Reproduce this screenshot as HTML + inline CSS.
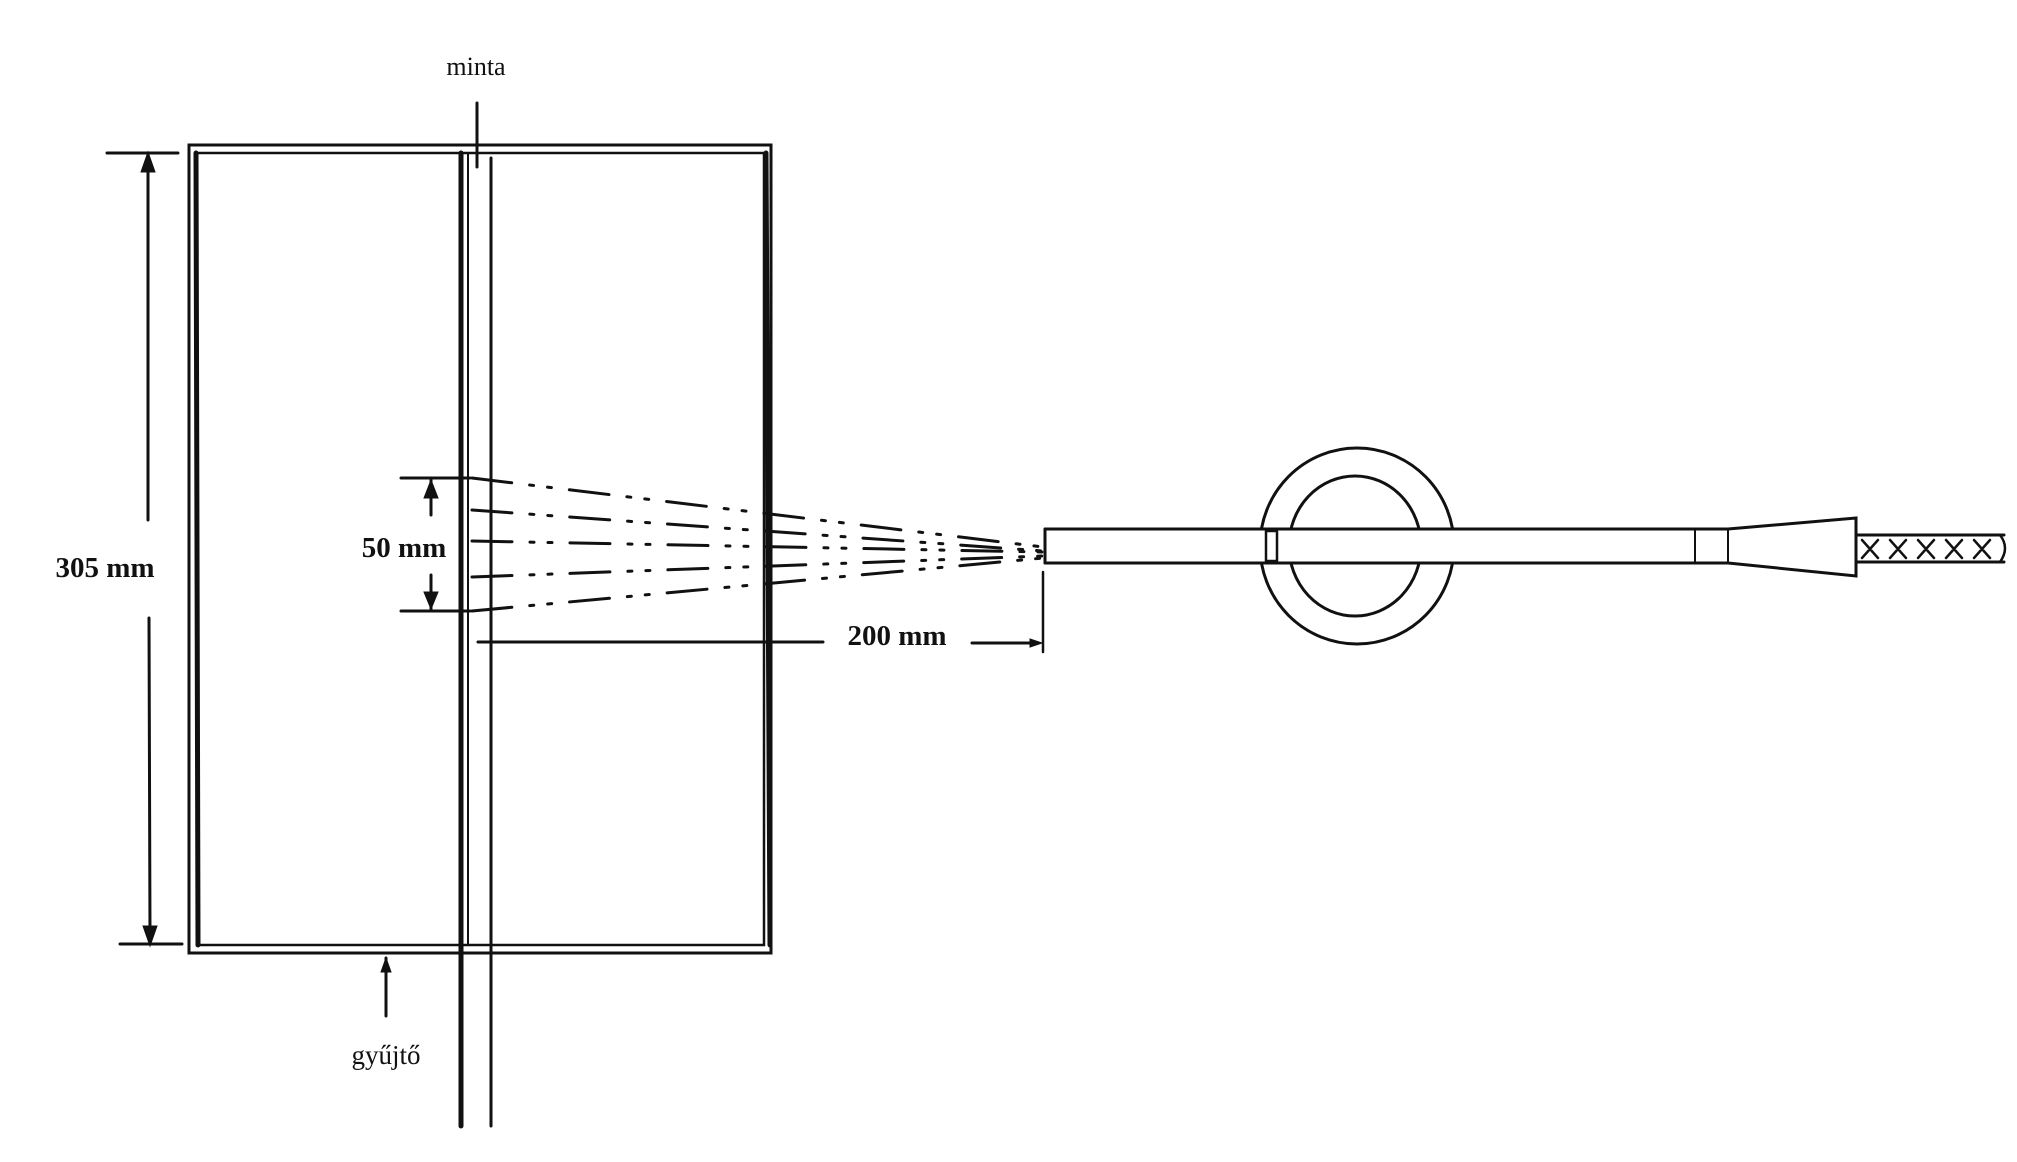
<!DOCTYPE html>
<html><head><meta charset="utf-8"><style>
html,body{margin:0;padding:0;background:#fff;width:2017px;height:1162px;overflow:hidden}
svg{display:block}
text{font-family:"Liberation Serif",serif;fill:#111}
</style></head><body>
<svg width="2017" height="1162" viewBox="0 0 2017 1162" xmlns="http://www.w3.org/2000/svg">
<g stroke="#111" fill="none" stroke-linecap="round">
<!-- box -->
<rect x="189" y="145" width="582" height="808" stroke-width="3"/>
<rect x="197" y="153" width="567" height="792" stroke-width="2.5"/>
<line x1="196" y1="153" x2="198" y2="945" stroke-width="5"/>
<line x1="766" y1="153" x2="770" y2="945" stroke-width="5"/>
<!-- divider -->
<line x1="461" y1="153" x2="461" y2="1126" stroke-width="5"/>
<line x1="468" y1="153" x2="468" y2="945" stroke-width="2"/>
<line x1="491" y1="158" x2="491" y2="1126" stroke-width="3"/>
<line x1="477" y1="103" x2="477" y2="167" stroke-width="3"/>
<!-- 305 mm -->
<line x1="107" y1="153" x2="178" y2="153" stroke-width="3"/>
<line x1="120" y1="944" x2="182" y2="944" stroke-width="3"/>
<line x1="148" y1="162" x2="148" y2="520" stroke-width="3"/>
<line x1="149" y1="618" x2="150" y2="935" stroke-width="3"/>
<path d="M141 172 L148 152 L155 172 Z M143 926 L150 946 L157 926 Z" fill="#111" stroke-width="1"/>
<!-- 50 mm -->
<line x1="401" y1="478" x2="470" y2="478" stroke-width="3"/>
<line x1="401" y1="611" x2="470" y2="611" stroke-width="3"/>
<line x1="431" y1="480" x2="431" y2="515" stroke-width="3"/>
<line x1="431" y1="575" x2="431" y2="609" stroke-width="3"/>
<path d="M424 498 L431 480 L438 498 Z M424 592 L431 609 L438 592 Z" fill="#111" stroke-width="1"/>
<!-- spray -->
<g stroke-width="3" stroke-dasharray="40 18 4 14 4 18">
<line x1="472" y1="478" x2="1043" y2="547"/>
<line x1="472" y1="510" x2="1043" y2="551"/>
<line x1="472" y1="541" x2="1043" y2="552"/>
<line x1="472" y1="577" x2="1043" y2="556"/>
<line x1="472" y1="611" x2="1043" y2="558"/>
</g>
<!-- 200 mm -->
<line x1="478" y1="642" x2="823" y2="642" stroke-width="3"/>
<line x1="972" y1="643" x2="1038" y2="643" stroke-width="3"/>
<path d="M1030 639 L1042 643 L1030 647 Z" fill="#111"/>
<line x1="1043" y1="572" x2="1043" y2="652" stroke-width="2.5"/>
<!-- ring -->
<ellipse cx="1357" cy="546" rx="97" ry="98" stroke-width="3"/>
<ellipse cx="1355" cy="546" rx="66" ry="70" stroke-width="3"/>
<rect x="1045" y="530" width="683" height="32" fill="#fff" stroke="none"/>
<!-- tube -->
<line x1="1045" y1="529" x2="1728" y2="529" stroke-width="3"/>
<line x1="1045" y1="563" x2="1728" y2="563" stroke-width="3"/>
<line x1="1045" y1="529" x2="1045" y2="563" stroke-width="3"/>
<rect x="1266" y="531" width="11" height="30" stroke-width="2.5"/>
<line x1="1695" y1="529" x2="1695" y2="563" stroke-width="2"/>
<line x1="1728" y1="529" x2="1728" y2="563" stroke-width="2"/>
<path d="M1728 529 L1856 518 L1856 576 L1728 563" stroke-width="3"/>
<!-- braided hose -->
<line x1="1856" y1="535" x2="2004" y2="535" stroke-width="3"/>
<line x1="1856" y1="562" x2="2004" y2="562" stroke-width="3"/>
<path d="M1862 540 L1878 558 M1878 540 L1862 558 M1890 540 L1906 558 M1906 540 L1890 558 M1918 540 L1934 558 M1934 540 L1918 558 M1946 540 L1962 558 M1962 540 L1946 558 M1974 540 L1990 558 M1990 540 L1974 558" stroke-width="2.5"/>
<path d="M2000 535 Q2010 548 2000 562" stroke-width="2.5"/>
<!-- gyujto arrow -->
<line x1="386" y1="958" x2="386" y2="1016" stroke-width="3"/>
<path d="M381 972 L386 958 L391 972 Z" fill="#111"/>
</g>
<text x="476" y="75" font-size="26" text-anchor="middle">minta</text>
<text x="105" y="577" font-size="29" font-weight="bold" text-anchor="middle">305 mm</text>
<text x="404" y="557" font-size="29" font-weight="bold" text-anchor="middle">50 mm</text>
<text x="897" y="645" font-size="29" font-weight="bold" text-anchor="middle">200 mm</text>
<text x="386" y="1064" font-size="27" text-anchor="middle">gyűjtő</text>
</svg>
</body></html>
